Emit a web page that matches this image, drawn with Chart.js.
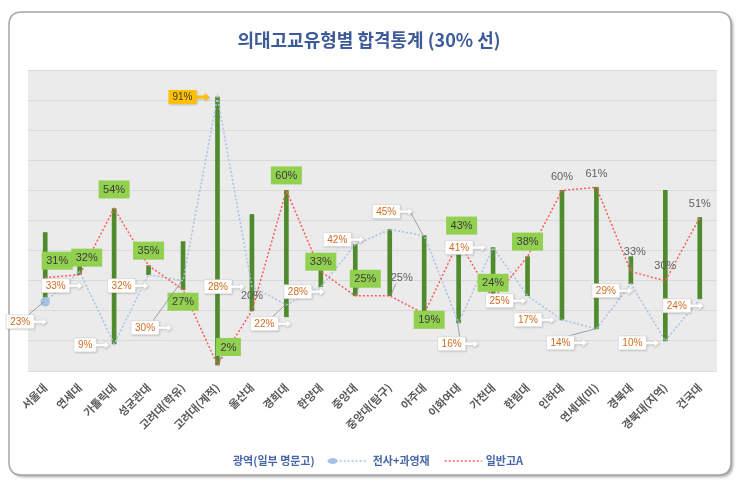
<!DOCTYPE html>
<html><head><meta charset="utf-8">
<script src="https://cdn.jsdelivr.net/npm/chart.js@4"></script>
<style>html,body{margin:0;padding:0;background:#fff}canvas{display:block}</style>
</head><body>
<canvas id="c" width="743" height="490"></canvas>
<script>
// ---- data ----
const categories = ['서울대','연세대','가톨릭대','성균관대','고려대(학유)','고려대(계적)','울산대','경희대','한양대','중앙대','중앙대(탐구)','아주대','이화여대','가천대','한림대','인하대','연세대(미)','경북대','경북대(지역)','건국대'];
const gwangyeok = [46,36,30,33,43,40,52,18,39,33,35,30,30,35,30,35,40,38,60,35];
const jeonsa    = [23,33,9,32,30,91,28,22,28,42,47,45,16,41,25,17,14,29,10,24];
const ilban     = [31,32,54,35,27,2,20,60,33,25,25,19,43,24,38,60,61,33,30,51];
const seriesNames = ['광역(일부 명문고)','전사+과영재','일반고A'];
const titleText = '의대고교유형별 합격통계 (30% 선)';

// ---- label placement (style / offsets, separate from data) ----
const ilbanLabelStyle = ['g','g','g','g','g','g','p','g','g','g','p','g','g','g','g','p','p','p','p','p'];
const ilbanLabelOffset = [[12,-17],[7,-17],[0,-19],[0,-15],[0,12],[11,-18],[0,-15],[0,-15],[0,-10],[10,-17],[12,-18],[5,6],[3,-16],[0,-16],[0,-15],[0,-14],[0,-14],[4,-20],[0,-15],[0,-14]];
const ilbanLeader = [false,false,false,false,false,true,false,false,false,true,true,false,false,false,false,false,false,true,false,false];
const jeonsaLabelOffset = [[-25,20],[-24,14],[-29,1],[-27,11],[-38,47],[-35,0],[-34,0],[-22,19],[-23,5],[-18,-5],null,[-38,-24],[-7,21],[-34,0],[-28,5],[-34,0],[-36,14],[-25,7],[-33,2],[-23,7]];
const jeonsaLeader = [true,false,false,false,true,false,false,true,false,false,false,true,true,false,false,false,true,false,false,false];
const highlightIndex = 5;

const hiLo = categories.map((_, i) => [Math.min(gwangyeok[i], jeonsa[i], ilban[i]), Math.max(gwangyeok[i], jeonsa[i], ilban[i])]);

const BLUE = '#a7c1e6', RED = '#ff5a5a', GREEN_BAR = '#4f8a2c';
const NUM_FONT = '"Liberation Sans", Arial, sans-serif';
const KR_FONT = '"Noto Sans CJK KR", "Noto Sans", sans-serif';

function rr(ctx, x, y, w, h, r) {
  ctx.beginPath();
  ctx.moveTo(x + r, y); ctx.lineTo(x + w - r, y); ctx.quadraticCurveTo(x + w, y, x + w, y + r);
  ctx.lineTo(x + w, y + h - r); ctx.quadraticCurveTo(x + w, y + h, x + w - r, y + h);
  ctx.lineTo(x + r, y + h); ctx.quadraticCurveTo(x, y + h, x, y + h - r);
  ctx.lineTo(x, y + r); ctx.quadraticCurveTo(x, y, x + r, y); ctx.closePath();
}

function callout(ctx, cx, cy, text, fill, textColor, stroke) {
  ctx.font = '10px ' + NUM_FONT;
  const tw = ctx.measureText(text).width;
  const w = tw + 8, h = 14, x = cx - w / 2, y = cy - h / 2;
  ctx.save();
  ctx.beginPath();
  ctx.moveTo(x, y); ctx.lineTo(x + w, y); ctx.lineTo(x + w, cy - 1.5);
  ctx.lineTo(x + w + 8, cy - 1.5); ctx.lineTo(x + w + 8, cy - 4); ctx.lineTo(x + w + 13, cy);
  ctx.lineTo(x + w + 8, cy + 4); ctx.lineTo(x + w + 8, cy + 1.5); ctx.lineTo(x + w, cy + 1.5);
  ctx.lineTo(x + w, y + h); ctx.lineTo(x, y + h); ctx.closePath();
  ctx.shadowColor = 'rgba(0,0,0,0.18)'; ctx.shadowBlur = 2; ctx.shadowOffsetX = 1; ctx.shadowOffsetY = 1;
  ctx.fillStyle = fill; ctx.fill();
  ctx.shadowColor = 'transparent';
  if (stroke) { ctx.strokeStyle = stroke; ctx.lineWidth = 0.6; ctx.stroke(); }
  ctx.restore();
  ctx.fillStyle = textColor; ctx.textAlign = 'center'; ctx.textBaseline = 'middle';
  ctx.fillText(text, cx, cy + 0.5);
  return { x, y, w, h, tip: x + w + 13 };
}

const framePlugin = {
  id: 'frame',
  beforeDraw(chart) {
    const ctx = chart.ctx, a = chart.chartArea;
    ctx.save();
    ctx.fillStyle = '#fff'; ctx.fillRect(0, 0, chart.width, chart.height);
    rr(ctx, 9, 12, 722, 463, 13);
    ctx.shadowColor = 'rgba(0,0,0,0.35)'; ctx.shadowBlur = 3; ctx.shadowOffsetX = 2; ctx.shadowOffsetY = 2;
    ctx.fillStyle = '#fff'; ctx.fill();
    ctx.shadowColor = 'transparent';
    ctx.strokeStyle = '#a6a6a6'; ctx.lineWidth = 1.5; ctx.stroke();
    ctx.fillStyle = '#ebebeb'; ctx.fillRect(a.left, a.top, a.right - a.left, a.bottom - a.top);
    // title
    ctx.font = 'bold 18px ' + KR_FONT; ctx.fillStyle = '#3d5b98';
    ctx.textAlign = 'center'; ctx.textBaseline = 'middle';
    ctx.fillText(titleText, 369, 40);
    // legend
    ctx.font = 'bold 11px ' + KR_FONT; ctx.fillStyle = '#4767a8'; ctx.textAlign = 'left';
    const ly = 461;
    let x = 233;
    ctx.fillText(seriesNames[0], x, ly);
    x += ctx.measureText(seriesNames[0]).width + 13;
    ctx.strokeStyle = BLUE; ctx.lineWidth = 1.5; ctx.setLineDash([2, 2]);
    ctx.beginPath(); ctx.moveTo(x, ly); ctx.lineTo(x + 40, ly); ctx.stroke();
    ctx.setLineDash([]);
    ctx.fillStyle = BLUE; ctx.beginPath(); ctx.ellipse(x + 5, ly, 5, 3, 0, 0, Math.PI * 2); ctx.fill();
    x += 45;
    ctx.fillStyle = '#4767a8';
    ctx.fillText(seriesNames[1], x, ly);
    x += ctx.measureText(seriesNames[1]).width + 15;
    ctx.strokeStyle = RED; ctx.setLineDash([2, 2]);
    ctx.beginPath(); ctx.moveTo(x, ly); ctx.lineTo(x + 37, ly); ctx.stroke();
    ctx.setLineDash([]);
    x += 41;
    ctx.fillText(seriesNames[2], x, ly);
    ctx.restore();
  }
};

const labelPlugin = {
  id: 'labels',
  afterDatasetsDraw(chart) {
    const ctx = chart.ctx;
    const mR = chart.getDatasetMeta(3).data, mB = chart.getDatasetMeta(2).data;
    ctx.save();
    // 일반고A labels
    ilban.forEach((v, i) => {
      const p = mR[i], o = ilbanLabelOffset[i];
      const cx = p.x + o[0], cy = p.y + o[1], text = v + '%';
      if (ilbanLeader[i]) {
        ctx.strokeStyle = '#8c8c8c'; ctx.lineWidth = 0.8;
        ctx.beginPath(); ctx.moveTo(cx - 6, cy + (o[1] < 0 ? 6 : -6)); ctx.lineTo(p.x + 1, p.y); ctx.stroke();
      }
      if (ilbanLabelStyle[i] === 'g') {
        ctx.font = '11px ' + NUM_FONT;
        const w = ctx.measureText(text).width + 9, h = 18;
        ctx.fillStyle = '#92d050';
        ctx.fillRect(cx - w / 2, cy - h / 2, w, h);
        ctx.fillStyle = '#3a3a3a';
      } else {
        ctx.font = '11px ' + NUM_FONT;
        ctx.fillStyle = '#5f5f5f';
      }
      ctx.textAlign = 'center'; ctx.textBaseline = 'middle';
      ctx.fillText(text, cx, cy + 0.5);
    });
    // 전사+과영재 labels
    jeonsa.forEach((v, i) => {
      const o = jeonsaLabelOffset[i];
      if (!o) return;
      const p = mB[i], cx = p.x + o[0], cy = p.y + o[1], text = v + '%';
      if (jeonsaLeader[i]) {
        ctx.strokeStyle = '#8c8c8c'; ctx.lineWidth = 0.8;
        ctx.beginPath();
        if (o[1] > 0) { ctx.moveTo(cx + 8, cy - 7); } else { ctx.moveTo(cx + 24, cy); }
        ctx.lineTo(p.x - 1, p.y); ctx.stroke();
      }
      if (i === highlightIndex) callout(ctx, cx, cy, text, '#ffc000', '#3a3a3a', null);
      else callout(ctx, cx, cy, text, '#ffffff', '#d36b1f', '#d0d0d0');
    });
    ctx.restore();
  }
};

new Chart(document.getElementById('c'), {
  type: 'bar',
  data: {
    labels: categories,
    datasets: [
      { type: 'bar', label: 'hilo', data: hiLo, backgroundColor: GREEN_BAR, barThickness: 4, order: 4 },
      { type: 'line', label: seriesNames[0], data: gwangyeok, showLine: false, pointRadius: 0, order: 3 },
      { type: 'line', label: seriesNames[1], data: jeonsa, borderColor: BLUE, borderWidth: 1.5, borderDash: [2, 2],
        pointRadius: categories.map((_, i) => i === 0 ? 4 : 0), pointBackgroundColor: BLUE, pointBorderColor: BLUE, fill: false, tension: 0, order: 2 },
      { type: 'line', label: seriesNames[2], data: ilban, borderColor: RED, borderWidth: 1.5, borderDash: [2, 2],
        pointRadius: 0, fill: false, tension: 0, order: 1 }
    ]
  },
  options: {
    responsive: false, animation: false,
    layout: { padding: { left: 28, right: 26, top: 70, bottom: 0 } },
    plugins: { legend: { display: false }, tooltip: { enabled: false } },
    scales: {
      x: {
        offset: true, grid: { display: false }, border: { display: false },
        ticks: { color: '#595959', font: { family: KR_FONT, size: 11, weight: 'bold' }, maxRotation: 45, minRotation: 45, padding: 2, autoSkip: false },
        afterFit(s) { s.height = 119; }
      },
      y: {
        min: 0, max: 100,
        ticks: { display: false, stepSize: 10 },
        grid: { color: '#dadada', drawTicks: false, lineWidth: 1 },
        border: { display: false },
        afterFit(s) { s.width = 0; }
      }
    }
  },
  plugins: [framePlugin, labelPlugin]
});
</script>
</body></html>
